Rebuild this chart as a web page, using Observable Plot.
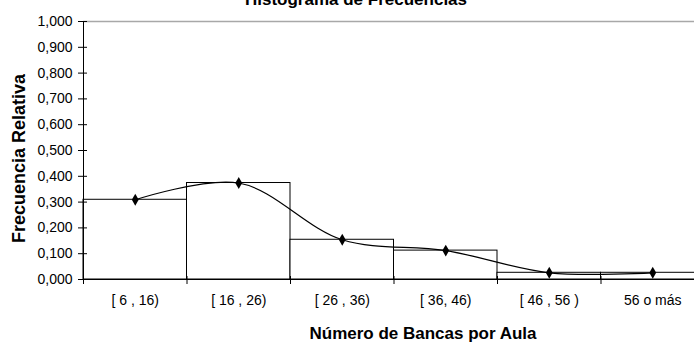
<!DOCTYPE html>
<html>
<head>
<meta charset="utf-8">
<script src="https://cdn.jsdelivr.net/npm/d3@7"></script>
<script src="https://cdn.jsdelivr.net/npm/@observablehq/plot@0.6"></script>
<style>
  html, body { margin: 0; padding: 0; background: white; overflow: hidden; }
  #chart { width: 694px; height: 342px; overflow: hidden; position: relative; }
  #chart svg { display: block; max-width: none !important; width: 704px !important; height: 342px !important; }
</style>
</head>
<body>
<div id="chart"></div>
<script>
const title = "Histograma de Frecuencias";
const xTitle = "Número de Bancas por Aula";
const yTitle = "Frecuencia Relativa";
const categories = ["[ 6 , 16)", "[ 16 , 26)", "[ 26 , 36)", "[ 36, 46)", "[ 46 , 56 )", "56 o más"];
const frecuencias = [0.309, 0.374, 0.154, 0.112, 0.026, 0.026];
const yTicks = [0, 0.1, 0.2, 0.3, 0.4, 0.5, 0.6, 0.7, 0.8, 0.9, 1.0];

const data = categories.map((c, i) => ({cat: c, i, f: frecuencias[i]}));
const centers = categories.map((c, i) => i + 0.5);
const bounds = d3.range(categories.length + 1);
const fmt = d => d.toFixed(3).replace(".", ",");

const chart = Plot.plot({
  width: 704,
  height: 342,
  marginLeft: 83,
  marginRight: 0,
  marginTop: 21,
  marginBottom: 63,
  style: {fontFamily: "'Liberation Sans', Arial, sans-serif", fontSize: "14px", color: "black", background: "white", maxWidth: "none"},
  x: {domain: [0, categories.length]},
  y: {domain: [0, 1]},
  marks: [
    Plot.ruleY([1], {stroke: "#a8a8a8", strokeWidth: 1.5}),
    Plot.rectY(data, {x1: d => d.i, x2: d => d.i + 1, y: "f", fill: "white", stroke: "black", strokeWidth: 1}),
    Plot.line(data, {x: d => d.i + 0.5, y: "f", curve: "catmull-rom", stroke: "black", strokeWidth: 1.2}),
    Plot.dot(data, {x: d => d.i + 0.5, y: "f", symbol: "diamond", r: 3.6, fill: "black", stroke: null}),
    Plot.frame({anchor: "left", stroke: "black"}),
    Plot.frame({anchor: "bottom", stroke: "black"}),
    Plot.axisY({ticks: yTicks, tickSize: 5, tickPadding: 6, tickFormat: fmt, label: null}),
    Plot.axisY({ticks: yTicks, tickSize: -4, tickFormat: () => "", label: null}),
    Plot.axisX({ticks: centers, tickSize: 0, tickPadding: 16, tickFormat: v => categories[Math.floor(v)], label: null}),
    Plot.axisX({ticks: bounds, tickSize: 5, tickFormat: () => "", label: null}),
    Plot.axisX({ticks: bounds, tickSize: -3, tickFormat: () => "", label: null}),
    Plot.text([title], {frameAnchor: "top", textAnchor: "middle", dx: -38, dy: -22, lineAnchor: "middle", fontWeight: "bold", fontSize: 17}),
    Plot.text([xTitle], {frameAnchor: "bottom", textAnchor: "middle", dx: 29, dy: 54, lineAnchor: "middle", fontWeight: "bold", fontSize: 17}),
    Plot.text([yTitle], {frameAnchor: "left", textAnchor: "middle", dx: -64, dy: 8, rotate: -90, lineAnchor: "middle", fontWeight: "bold", fontSize: 18})
  ]
});
document.getElementById("chart").appendChild(chart);
</script>
</body>
</html>
